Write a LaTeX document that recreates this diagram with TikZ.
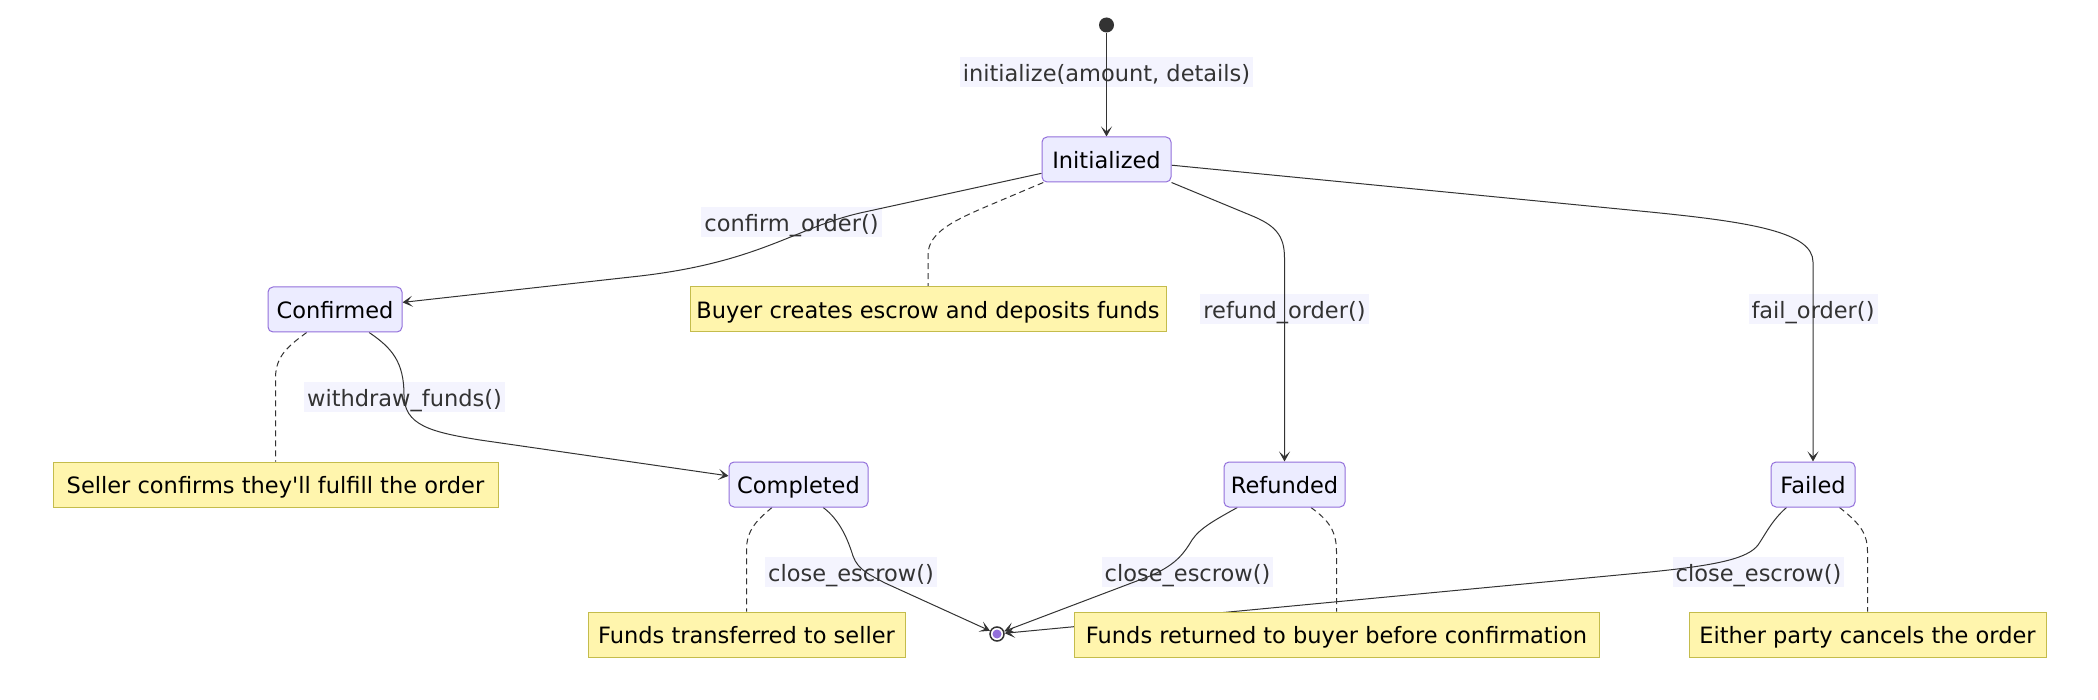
\documentclass[tikz,border=0pt]{standalone}
\usepackage{fontspec}
\setmainfont{DejaVu Sans}[Ligatures=TeXOff]
\usetikzlibrary{arrows.meta}
\definecolor{stbd}{HTML}{9370DB}
\definecolor{stfill}{HTML}{ECECFF}
\definecolor{notefill}{HTML}{FFF5AD}
\definecolor{notebd}{HTML}{C4BC4C}
\definecolor{lblbg}{HTML}{F4F4FE}
\definecolor{ln}{HTML}{333333}
\pgfdeclarelayer{lbl}
\pgfdeclarelayer{edges}
\pgfsetlayers{lbl,edges,main}
\begin{document}
\begin{tikzpicture}[x=1pt,y=-1pt,
  txt/.style={font=\fontsize{22.5}{27}\selectfont, inner sep=0pt, text height=18.5pt, text depth=1pt},
  stbox/.style={txt, draw=stbd, fill=stfill, line width=1pt, rounded corners=5pt, minimum height=45pt, text=black},
  notebox/.style={txt, draw=notebd, fill=notefill, line width=1pt, minimum height=45pt, text=black},
  elabel/.style={txt, fill=lblbg, text=ln, minimum height=30pt, inner xsep=3pt, text height=19.5pt, text depth=0.5pt},
  trans/.style={draw=ln, line width=1pt, -{Stealth[length=10pt,width=11pt,inset=5pt]}},
  noteline/.style={draw=ln, line width=1pt, dash pattern=on 6pt off 4pt},
]
\begin{pgfonlayer}{lbl}
\fill[white] (0,0) rectangle (2098,700);
\end{pgfonlayer}
\useasboundingbox (0,0) rectangle (2098,700);

% states
\node[stbox, minimum width=129pt] (I) at (1106.5,159.5) {Initialized};
\node[stbox, minimum width=134pt] (C) at (335,309.5) {Confirmed};
\node[stbox, minimum width=139pt] (Cp) at (798.5,484.5) {Completed};
\node[stbox, minimum width=121pt] (R) at (1284.5,484.5) {Refunded};
\node[stbox, minimum width=84pt] (F) at (1813,484.5) {Failed};

% notes
\node[notebox, minimum width=476pt] (NB) at (928,309.5) {Buyer creates escrow and deposits funds};
\node[notebox, minimum width=445pt] (NS) at (275.5,484.5) {Seller confirms they'll fulfill the order};
\node[notebox, minimum width=317pt] (NT) at (746.5,634.5) {Funds transferred to seller};
\node[notebox, minimum width=525pt] (NR) at (1336.5,634.5) {Funds returned to buyer before confirmation};
\node[notebox, minimum width=357pt] (NE) at (1867.5,634.5) {Either party cancels the order};

% start / end
\node[circle, fill=ln, minimum size=15pt, inner sep=0pt] (S) at (1106.5,25) {};
\node[circle, draw=ln, fill=white, line width=1.5pt, minimum size=14pt, inner sep=0pt] (E) at (997,634) {};
\fill[stbd] (E.center) circle[radius=4.5pt];

% labels
\begin{pgfonlayer}{lbl}
\node[elabel] (L1) at (1106.5,72) {initialize(amount, details)};
\node[elabel] (L2) at (791.5,222) {confirm\_order()};
\node[elabel] (L3) at (404.5,397) {withdraw\_funds()};
\node[elabel] (L4) at (1284.5,309) {refund\_order()};
\node[elabel] (L5) at (1813,309) {fail\_order()};
\node[elabel] (L6) at (851,572) {close\_escrow()};
\node[elabel] (L7) at (1187.5,572) {close\_escrow()};
\node[elabel] (L8) at (1758.5,572) {close\_escrow()};
\end{pgfonlayer}

\begin{pgfonlayer}{edges}
\draw[trans] (S) -- (I.north);
\draw[trans] (I.192) -- (860,213) .. controls (795,228) and (760,262) .. (640,276) -- (C.6);
\draw[trans] (C.326) .. controls (392,348) and (404,362) .. (404,395) .. controls (404,425) and (430,432) .. (480,440) -- (Cp.173);
\draw[trans] (I.south east) -- (1250,215) .. controls (1275,225) and (1284.5,235) .. (1284.5,258) -- (R.north);
\draw[trans] (I.355) -- (1650,212) .. controls (1750,222) and (1813,232) .. (1813,262) -- (F.north);
\draw[trans] (Cp.317) .. controls (840,520) and (848,540) .. (853,556) .. controls (858,570) and (870,575) .. (885,583) -- (E);
\draw[trans] (R.206) .. controls (1215,520) and (1200,528) .. (1192,540) .. controls (1183,555) and (1175,565) .. (1150,576) -- (E);
\draw[trans] (F.221) .. controls (1772,520) and (1765,535) .. (1758,545) .. controls (1748,558) and (1720,565) .. (1650,572) -- (E);

\draw[noteline] (I.200) -- (990,205) .. controls (955,220) and (928,232) .. (928,255) -- (NB.north);
\draw[noteline] (C.219) .. controls (290,345) and (275.5,355) .. (275.5,378) -- (NS.north);
\draw[noteline] (Cp.221) .. controls (757,520) and (746.5,530) .. (746.5,550) -- (NT.north);
\draw[noteline] (R.319) .. controls (1328,520) and (1336.5,530) .. (1336.5,552) -- (NR.north);
\draw[noteline] (F.319) .. controls (1862,525) and (1867.5,535) .. (1867.5,552) -- (NE.north);
\end{pgfonlayer}
\end{tikzpicture}
\end{document}
